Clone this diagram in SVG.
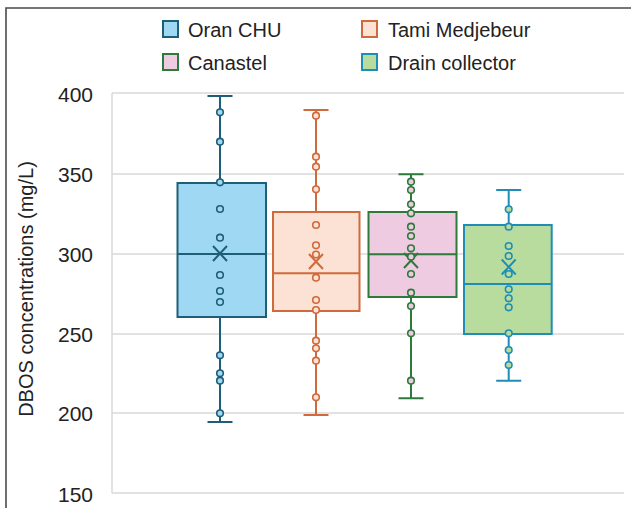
<svg xmlns="http://www.w3.org/2000/svg" width="631" height="508" viewBox="0 0 631 508">
<defs>
<style>
text{font-family:"Liberation Sans",Arial,sans-serif;fill:#222}
.tick{font-size:21px;text-anchor:end}
.leg{font-size:20px}
.grid{stroke:#d9d9d9;stroke-width:1.5;fill:none}
.b .box,.b .pt{fill:#9fd8f2;stroke:#1f5e78}
.b .ln{stroke:#1f5e78}
.o .box,.o .pt{fill:#fbe2d5;stroke:#d0693b}
.o .ln{stroke:#d0693b}
.p .box,.p .pt{fill:#eecbe0;stroke:#2e7a3c}
.p .ln{stroke:#2e7a3c}
.g .box,.g .pt{fill:#b8dc9e;stroke:#1f8db5}
.g .ln{stroke:#1f8db5}
.box{stroke-width:2}
.ln{stroke-width:2;fill:none}
.pt{stroke-width:1.6}
</style>
</defs>
<rect width="631" height="508" fill="#fff"/>
<path d="M6 520 V8 H640" fill="none" stroke="#4a4a4a" stroke-width="1.6"/>

<g id="grid">
<path class="grid" d="M112 93 H624 M112 174 H624 M112 254 H624 M112 334 H624 M112 413 H624 M112 493 H624 M112 93 V493"/>
</g>
<g id="y-axis">
<text class="tick" x="93" y="102">400</text>
<text class="tick" x="93" y="182">350</text>
<text class="tick" x="93" y="262">300</text>
<text class="tick" x="93" y="342">250</text>
<text class="tick" x="93" y="421">200</text>
<text class="tick" x="93" y="502">150</text>
<text transform="translate(33,289) rotate(-90)" font-size="20" text-anchor="middle">DBOS concentrations (mg/L)</text>
</g>

<g id="legend">
<g class="b"><rect class="box" x="163" y="21" width="15" height="16"/></g>
<text class="leg" x="188" y="37">Oran CHU</text>
<g class="o"><rect class="box" x="362" y="21" width="15" height="16"/></g>
<text class="leg" x="388" y="37">Tami Medjebeur</text>
<g class="p"><rect class="box" x="163" y="54" width="15" height="16"/></g>
<text class="leg" x="188" y="70">Canastel</text>
<g class="g"><rect class="box" x="362" y="54" width="15" height="16"/></g>
<text class="leg" x="388" y="70">Drain collector</text>
</g>

<g id="connectors"></g>

<g id="oran-chu" class="b">
<path class="ln" d="M220 96 V183 M220 317 V422 M207.5 96 H232.5 M207.5 422 H232.5"/>
<rect class="box" x="177.5" y="183" width="88.5" height="134"/>
<path class="ln" d="M177.5 254 H266"/>
<path class="ln" d="M213 246 L227 261 M227 246 L213 261"/>
<g>
<circle class="pt" cx="220" cy="112.3" r="3.3"/>
<circle class="pt" cx="220" cy="141.7" r="3.3"/>
<circle class="pt" cx="220" cy="182.3" r="3.3"/>
<circle class="pt" cx="220" cy="209" r="3.3"/>
<circle class="pt" cx="220" cy="237.7" r="3.3"/>
<circle class="pt" cx="220" cy="275" r="3.3"/>
<circle class="pt" cx="220" cy="291" r="3.3"/>
<circle class="pt" cx="220" cy="302" r="3.3"/>
<circle class="pt" cx="220" cy="355.3" r="3.3"/>
<circle class="pt" cx="220" cy="373.3" r="3.3"/>
<circle class="pt" cx="220" cy="380.7" r="3.3"/>
<circle class="pt" cx="220" cy="413.3" r="3.3"/>
</g>
</g>

<g id="tami-medjebeur" class="o">
<path class="ln" d="M316 110 V212 M316 311 V415 M303.5 110 H328.5 M303.5 415 H328.5"/>
<rect class="box" x="273" y="212" width="86.5" height="99"/>
<path class="ln" d="M273 273.3 H359.5"/>
<path class="ln" d="M309 254 L323 269 M323 254 L309 269"/>
<g>
<circle class="pt" cx="316" cy="115.7" r="3.3"/>
<circle class="pt" cx="316" cy="156.7" r="3.3"/>
<circle class="pt" cx="316" cy="166.7" r="3.3"/>
<circle class="pt" cx="316" cy="189.3" r="3.3"/>
<circle class="pt" cx="316" cy="225" r="3.3"/>
<circle class="pt" cx="316" cy="245.3" r="3.3"/>
<circle class="pt" cx="316" cy="254.5" r="3.3"/>
<circle class="pt" cx="316" cy="277.7" r="3.3"/>
<circle class="pt" cx="316" cy="300" r="3.3"/>
<circle class="pt" cx="316" cy="310" r="3.3"/>
<circle class="pt" cx="316" cy="340.7" r="3.3"/>
<circle class="pt" cx="316" cy="348.3" r="3.3"/>
<circle class="pt" cx="316" cy="360.7" r="3.3"/>
<circle class="pt" cx="316" cy="397.3" r="3.3"/>
</g>
</g>

<g id="canastel" class="p">
<path class="ln" d="M411 174.3 V212 M411 297 V398.3 M398.5 174.3 H423.5 M398.5 398.3 H423.5"/>
<rect class="box" x="368.5" y="212" width="88" height="85"/>
<path class="ln" d="M368.5 254.3 H456.5"/>
<path class="ln" d="M404 253 L418 268 M418 253 L404 268"/>
<g>
<circle class="pt" cx="411" cy="181.7" r="3.3"/>
<circle class="pt" cx="411" cy="190" r="3.3"/>
<circle class="pt" cx="411" cy="204.3" r="3.3"/>
<circle class="pt" cx="411" cy="213.3" r="3.3"/>
<circle class="pt" cx="411" cy="226.7" r="3.3"/>
<circle class="pt" cx="411" cy="236" r="3.3"/>
<circle class="pt" cx="411" cy="248.3" r="3.3"/>
<circle class="pt" cx="411" cy="256.7" r="3.3"/>
<circle class="pt" cx="411" cy="274" r="3.3"/>
<circle class="pt" cx="411" cy="292.7" r="3.3"/>
<circle class="pt" cx="411" cy="306" r="3.3"/>
<circle class="pt" cx="411" cy="333.3" r="3.3"/>
<circle class="pt" cx="411" cy="380.7" r="3.3"/>
</g>
</g>

<g id="drain-collector" class="g">
<path class="ln" d="M508.7 190 V225 M508.7 334 V380.7 M496.2 190 H521.2 M496.2 380.7 H521.2"/>
<rect class="box" x="464" y="225" width="87.7" height="109"/>
<path class="ln" d="M464 284 H551.7"/>
<path class="ln" d="M501.7 259.5 L515.7 274.5 M515.7 259.5 L501.7 274.5"/>
<g>
<circle class="pt" cx="508.7" cy="209.3" r="3.3"/>
<circle class="pt" cx="508.7" cy="226.7" r="3.3"/>
<circle class="pt" cx="508.7" cy="246" r="3.3"/>
<circle class="pt" cx="508.7" cy="256" r="3.3"/>
<circle class="pt" cx="508.7" cy="274" r="3.3"/>
<circle class="pt" cx="508.7" cy="289.3" r="3.3"/>
<circle class="pt" cx="508.7" cy="298.3" r="3.3"/>
<circle class="pt" cx="508.7" cy="307.3" r="3.3"/>
<circle class="pt" cx="508.7" cy="333.3" r="3.3"/>
<circle class="pt" cx="508.7" cy="350" r="3.3"/>
<circle class="pt" cx="508.7" cy="365" r="3.3"/>
</g>
</g>
</svg>
